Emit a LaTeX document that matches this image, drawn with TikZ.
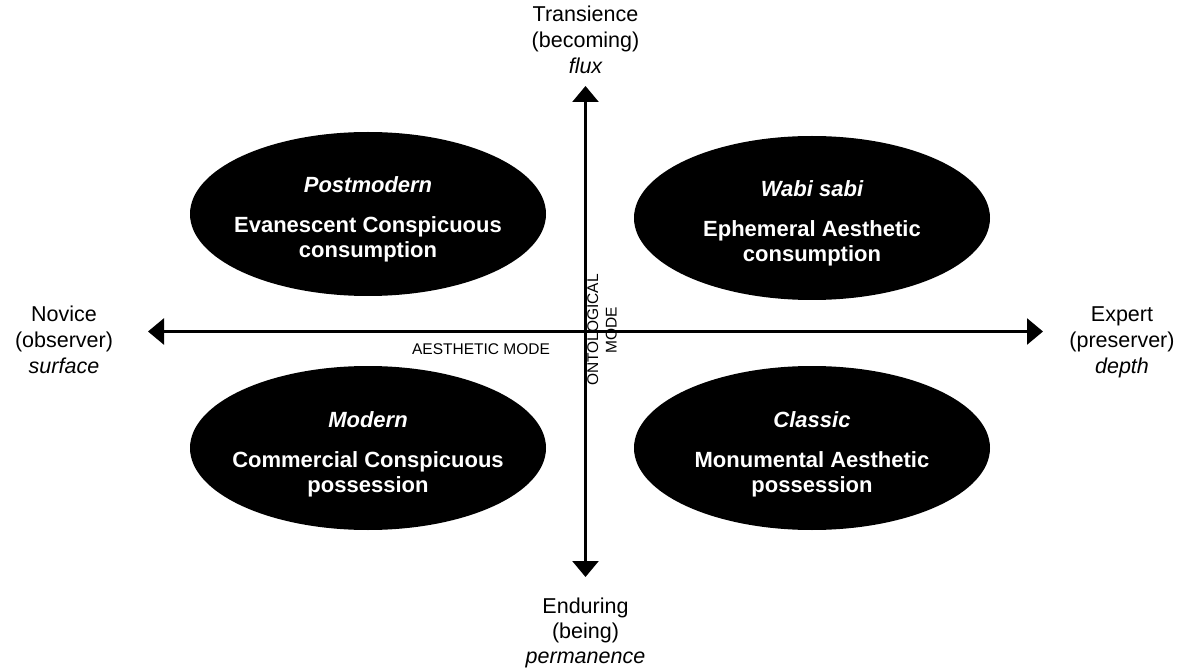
\documentclass[tikz,border=0pt]{standalone}
\usepackage{fontspec}
\setmainfont{Liberation Sans}
\usetikzlibrary{arrows.meta,shapes.geometric}

\begin{document}
\begin{tikzpicture}[x=1pt,y=-1pt,
  axisline/.style={line width=2.5pt,
    {Triangle[length=16pt,width=26pt]}-{Triangle[length=16pt,width=26pt]}},
  blob/.style={ellipse,fill=black,draw=none,inner sep=0pt,
    minimum width=356pt,minimum height=164pt},
  poletext/.style={anchor=base,inner sep=0pt,
    font=\fontsize{21.5}{26}\selectfont},
  poleital/.style={poletext,font=\fontsize{21.5}{26}\selectfont\itshape},
  blobtitle/.style={anchor=base,inner sep=0pt,text=white,
    font=\fontsize{22}{26}\selectfont\bfseries\itshape},
  blobtext/.style={anchor=base,inner sep=0pt,text=white,
    font=\fontsize{22}{26}\selectfont\bfseries},
  modetext/.style={inner sep=0pt,font=\fontsize{15.5}{18.5}\selectfont}
]
\useasboundingbox (0,0) rectangle (1178,668);

% quadrant ellipses
\node[blob] (pm) at (368,214) {};
\node[blob] (ws) at (812,218) {};
\node[blob] (md) at (368,448) {};
\node[blob] (cl) at (812,448) {};

% axes
\coordinate (vtop) at (585.5,86);
\coordinate (vbot) at (585.5,577);
\coordinate (hleft) at (148,331.5);
\coordinate (hright) at (1043,331.5);
\draw[axisline] (vbot) -- (vtop);
\draw[axisline] (hleft) -- (hright);

% ellipse texts
\node[blobtitle] (pm1) at (368,193) {Postmodern};
\node[blobtext]  (pm2) at (368,233) {Evanescent Conspicuous};
\node[blobtext]  (pm3) at (368,258) {consumption};

\node[blobtitle] (ws1) at (812,197) {Wabi sabi};
\node[blobtext]  (ws2) at (812,237) {Ephemeral Aesthetic};
\node[blobtext]  (ws3) at (812,262) {consumption};

\node[blobtitle] (md1) at (368,427) {Modern};
\node[blobtext]  (md2) at (368,467) {Commercial Conspicuous};
\node[blobtext]  (md3) at (368,492) {possession};

\node[blobtitle] (cl1) at (812,427) {Classic};
\node[blobtext]  (cl2) at (812,467) {Monumental Aesthetic};
\node[blobtext]  (cl3) at (812,492) {possession};

% pole labels
\node[poletext] (t1) at (585.5,22) {Transience};
\node[poletext] (t2) at (585.5,48) {(becoming)};
\node[poleital] (t3) at (585.5,74) {flux};

\node[poletext] (b1) at (585.5,613) {Enduring};
\node[poletext] (b2) at (585.5,638) {(being)};
\node[poleital] (b3) at (585.5,663) {permanence};

\node[poletext] (l1) at (64,322) {Novice};
\node[poletext] (l2) at (64,348) {(observer)};
\node[poleital] (l3) at (64,373) {surface};

\node[poletext] (r1) at (1122,322) {Expert};
\node[poletext] (r2) at (1122,348) {(preserver)};
\node[poleital] (r3) at (1122,373) {depth};

% axis names
\node[modetext,anchor=base] (aes) at (481,355) {AESTHETIC MODE};
\node[modetext,align=center,rotate=90] (ont) at (602,330) {ONTOLOGICAL\\MODE};
\end{tikzpicture}
\end{document}
